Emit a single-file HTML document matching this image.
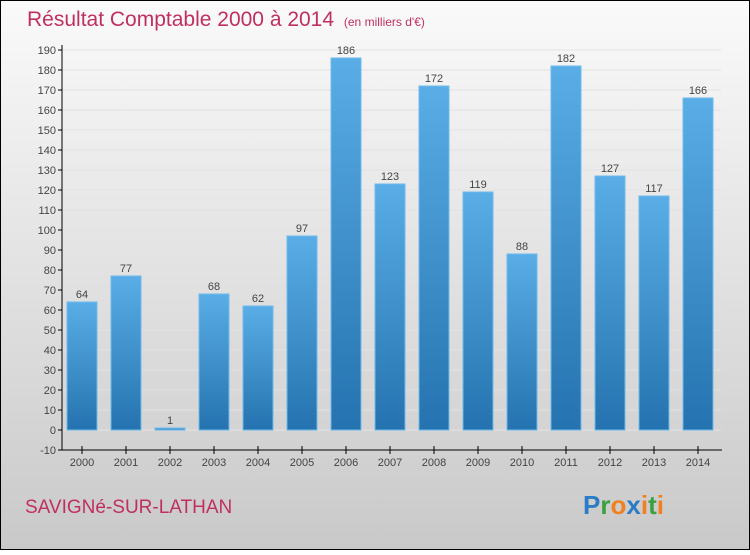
<!DOCTYPE html>
<html><head><meta charset="utf-8">
<style>
html,body{margin:0;padding:0;}
body{width:750px;height:550px;overflow:hidden;font-family:"Liberation Sans",sans-serif;}
</style></head>
<body>
<svg width="750" height="550" xmlns="http://www.w3.org/2000/svg" id="chart">
<defs>
<linearGradient id="bg" x1="0" y1="0" x2="0" y2="1">
<stop offset="0" stop-color="#fafafa"/><stop offset="1" stop-color="#c9c9c9"/>
</linearGradient>
<linearGradient id="bar" x1="0" y1="0" x2="0" y2="1">
<stop offset="0" stop-color="#5aade6"/><stop offset="1" stop-color="#2473b0"/>
</linearGradient>
</defs>
<rect x="0.5" y="0.5" width="749" height="549" fill="url(#bg)" stroke="#000"/>
<text x="27" y="26" font-size="21" fill="#c0305f">Résultat Comptable 2000 à 2014 <tspan font-size="12" dx="4">(en milliers d'€)</tspan></text>
<g id="grid"></g>
<g id="bars"></g>
<g id="axes"></g>
<text x="25" y="513" font-size="19" fill="#c0305f">SAVIGNé-SUR-LATHAN</text>
<text x="583" y="514" font-size="26" font-weight="bold"><tspan fill="#2a7cc7">P</tspan><tspan fill="#3aa040">r</tspan><tspan fill="#f08020">o</tspan><tspan fill="#2a7cc7">x</tspan><tspan fill="#f08020">i</tspan><tspan fill="#3aa040">t</tspan><tspan fill="#f08020">i</tspan></text>
</svg>
<script>
const categories=["2000","2001","2002","2003","2004","2005","2006","2007","2008","2009","2010","2011","2012","2013","2014"];
const values=[64,77,1,68,62,97,186,123,172,119,88,182,127,117,166];
const yTicks=[-10,0,10,20,30,40,50,60,70,80,90,100,110,120,130,140,150,160,170,180,190];
const NS="http://www.w3.org/2000/svg";
function y(v){return 430-(v*2);}
function x(i){return 82+i*44;}
function mk(tag,attrs,parent,txt){const e=document.createElementNS(NS,tag);for(const k in attrs)e.setAttribute(k,attrs[k]);if(txt!==undefined)e.textContent=txt;parent.appendChild(e);return e;}
const grid=document.getElementById('grid'),bars=document.getElementById('bars'),axes=document.getElementById('axes');
yTicks.forEach(t=>{
  if(t>-10){const g=mk('line',{x1:62,x2:721,y1:y(t),y2:y(t),stroke:'#e2e2e2','stroke-width':1},grid);
  
  }
  const tk=mk('line',{x1:58,x2:62,y1:y(t),y2:y(t),stroke:'#000'},axes);
  
  
  const lb=mk('text',{x:56,y:y(t)+4,'font-size':11,'text-anchor':'end',fill:'#444'},axes,String(t));
  
  
});
values.forEach((v,i)=>{
  const top=y(Math.max(v,0)),h=Math.abs(y(v)-y(0));
  const r=mk('rect',{x:x(i)-15,y:top,width:30,height:Math.max(h,1),fill:'url(#bar)',stroke:'#6fbbec','stroke-width':1},bars);
  
  
  const l=mk('text',{x:x(i),y:top-4,'font-size':11,'text-anchor':'middle',fill:'#444'},bars,String(v));
  
  
  const tk=mk('line',{x1:x(i),x2:x(i),y1:446,y2:454,stroke:'#000'},axes);
  
  
  const xl=mk('text',{x:x(i),y:466,'font-size':11,'text-anchor':'middle',fill:'#444'},axes,categories[i]);
  
  
});
const ya=mk('line',{x1:62,x2:62,y1:45,y2:450,stroke:'#000','stroke-width':1},axes);


const xa=mk('line',{x1:62,x2:722,y1:450,y2:450,stroke:'#000','stroke-width':1},axes);


</script>
</body></html>
